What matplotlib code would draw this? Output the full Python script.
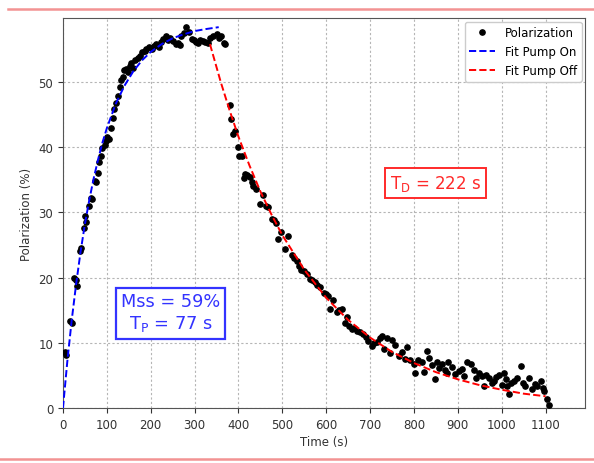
"""
Polarization build-up and decay: measured points with pump-on / pump-off fits.
"""

import matplotlib

matplotlib.use("Agg")
import matplotlib.pyplot as plt
from matplotlib.lines import Line2D

time_s = [
    5, 8, 17, 20, 26, 30, 33, 38, 41, 47, 50, 53, 60, 64, 67, 72, 76, 80, 83, 87,
    90, 95, 98, 100, 104, 110, 114, 117, 121, 125, 130, 133, 136, 140, 144, 148,
    152, 156, 160, 165, 170, 175, 180, 186, 190, 197, 202, 208, 213, 218, 223,
    228, 235, 240, 245, 251, 257, 262, 266, 270, 275, 281, 287, 293, 298, 303,
    308, 313, 319, 324, 330, 336, 342, 350, 356, 361, 366, 369,
    380, 384, 388, 392, 399, 402, 407, 412, 414, 420, 426, 430, 434, 441, 449,
    456, 462, 468, 476, 482, 486, 490, 498, 506, 514, 521, 527, 533, 538, 543,
    549, 556, 563, 568, 575, 580, 585, 594, 600, 604, 608, 616, 624, 630, 636,
    643, 647, 652, 658, 664, 670, 677, 684, 690, 696, 704, 710, 716, 722, 727,
    731, 738, 746, 749, 756, 765, 772, 780, 784, 792, 799, 803, 810, 818, 822,
    830, 834, 842, 849, 852, 858, 864, 870, 875, 878, 887, 894, 902, 910, 915,
    921, 929, 937, 941, 948, 954, 959, 965, 971, 977, 982, 988, 994, 1000,
    1005, 1009, 1012, 1016, 1022, 1028, 1035, 1043, 1048, 1054, 1062, 1070,
    1075, 1081, 1089, 1094, 1097, 1104, 1107,
]
polarization = [
    8.6, 8.2, 13.4, 13.0, 20.0, 19.6, 18.7, 24.0, 24.6, 27.6, 29.5, 28.5, 31.0,
    32.2, 32.0, 34.8, 34.6, 36.0, 37.7, 38.7, 39.8, 40.3, 41.0, 41.6, 41.2, 43.0,
    44.5, 45.9, 46.8, 47.9, 49.2, 50.3, 50.7, 51.8, 52.0, 51.6, 52.5, 52.9, 52.2,
    53.3, 53.6, 54.0, 54.6, 54.8, 55.1, 55.3, 55.0, 55.5, 55.8, 55.4, 56.2, 56.6,
    57.0, 56.5, 56.8, 56.3, 55.8, 55.9, 55.6, 57.0, 57.5, 58.4, 57.6, 56.6, 56.4,
    56.2, 56.0, 56.5, 56.3, 56.1, 56.0, 56.7, 57.0, 57.3, 56.8, 57.1, 56.0, 55.8,
    46.4, 44.3, 42.0, 42.5, 40.0, 38.6, 38.7, 35.2, 35.9, 35.8, 35.4, 34.6, 34.1,
    33.6, 31.3, 32.6, 31.0, 30.8, 29.0, 28.8, 28.4, 25.9, 27.0, 24.4, 26.4, 23.4,
    23.0, 22.6, 21.8, 21.1, 21.0, 20.6, 19.8, 19.6, 19.3, 18.9, 18.5, 17.7, 17.5,
    17.2, 15.2, 16.5, 14.7, 15.0, 15.2, 13.0, 13.9, 12.6, 12.1, 12.3, 11.8, 11.6,
    11.4, 10.9, 10.3, 9.5, 9.9, 10.1, 10.7, 11.1, 9.0, 10.8, 8.5, 10.5, 9.7, 8.0,
    8.6, 7.5, 9.3, 7.3, 6.7, 5.4, 7.4, 7.0, 5.5, 8.8, 7.7, 6.6, 4.4, 7.0, 6.2,
    6.8, 5.9, 5.4, 7.0, 6.3, 5.2, 5.6, 6.0, 4.9, 7.0, 6.8, 5.8, 4.6, 5.4, 4.9,
    3.4, 5.0, 4.6, 3.9, 4.1, 4.8, 5.1, 3.6, 5.4, 4.4, 3.4, 2.1, 3.8, 4.1, 4.6,
    6.5, 3.9, 3.4, 4.6, 2.9, 3.7, 3.4, 4.1, 3.0, 2.6, 1.4, 0.5,
]

# Fit curves
fit_on_t = [0, 10, 20, 30, 40, 50, 60, 70, 80, 90, 100, 120, 140, 160, 180,
            200, 225, 250, 275, 300, 325, 355]
fit_on_p = [0.0, 7.2, 13.5, 19.0, 23.9, 28.2, 31.9, 35.2, 38.1, 40.7, 42.9,
            46.6, 49.4, 51.6, 53.3, 54.6, 55.8, 56.7, 57.3, 57.8, 58.1, 58.4]
fit_off_t = [335, 360, 380, 400, 425, 450, 475, 500, 550, 600, 650, 700, 750,
             800, 850, 900, 950, 1000, 1050, 1100]
fit_off_p = [55.8, 49.9, 45.6, 41.6, 37.2, 33.2, 29.7, 26.5, 21.2, 16.9, 13.5,
             10.8, 8.6, 6.9, 5.5, 4.4, 3.5, 2.8, 2.2, 1.8]

fig = plt.figure(figsize=(5.94, 4.64), dpi=100)
ax = fig.add_axes([0.106, 0.1185, 0.879, 0.8405])

ax.plot(time_s, polarization, "o", color="black", markersize=3.8,
        label="Polarization", zorder=3)
ax.plot(fit_on_t, fit_on_p, "--", color="blue", lw=1.4, label="Fit Pump On",
        zorder=4)
ax.plot(fit_off_t, fit_off_p, "--", color="red", lw=1.4, label="Fit Pump Off",
        zorder=4)

ax.set_xlim(0, 1190)
ax.set_ylim(0, 59.8)
ax.set_xticks(range(0, 1101, 100))
ax.set_yticks(range(0, 51, 10))
ax.tick_params(labelsize=8.5, colors="#333333")
ax.set_xlabel("Time (s)", fontsize=8.5, color="#333333", labelpad=3)
ax.set_ylabel("Polarization (%)", fontsize=8.5, color="#333333", labelpad=4)
ax.grid(True, ls=(0, (2, 2)), color="#b5b5b5", lw=0.8)
for sp in ax.spines.values():
    sp.set_color("#555555")

ax.legend(loc="upper right", fontsize=8.5, framealpha=1, edgecolor="#cccccc",
          borderaxespad=0.3, handlelength=2.2)

ax.text(245, 14.6, "Mss = 59%\n$\\mathregular{T_P}$ = 77 s", color="#3333ff",
        fontsize=12.8, ha="center", va="center", linespacing=1.2,
        bbox=dict(boxstyle="square,pad=0.3", fc="white", ec="#3333ff", lw=1.6))
ax.text(849, 34.5, "$\\mathregular{T_D}$ = 222 s", color="#ff2a2a",
        fontsize=12, ha="center", va="center",
        bbox=dict(boxstyle="square,pad=0.3", fc="white", ec="#ff2a2a", lw=1.4))

# light red rules above and below the figure
fig.add_artist(Line2D([0.013, 1.0], [0.978, 0.978], color="#f07878", lw=1.8,
                      alpha=0.8, transform=fig.transFigure))
fig.add_artist(Line2D([0.0, 1.0], [0.009, 0.009], color="#f07878", lw=1.8,
                      alpha=0.8, transform=fig.transFigure))

fig.savefig("out.png", dpi=100)
